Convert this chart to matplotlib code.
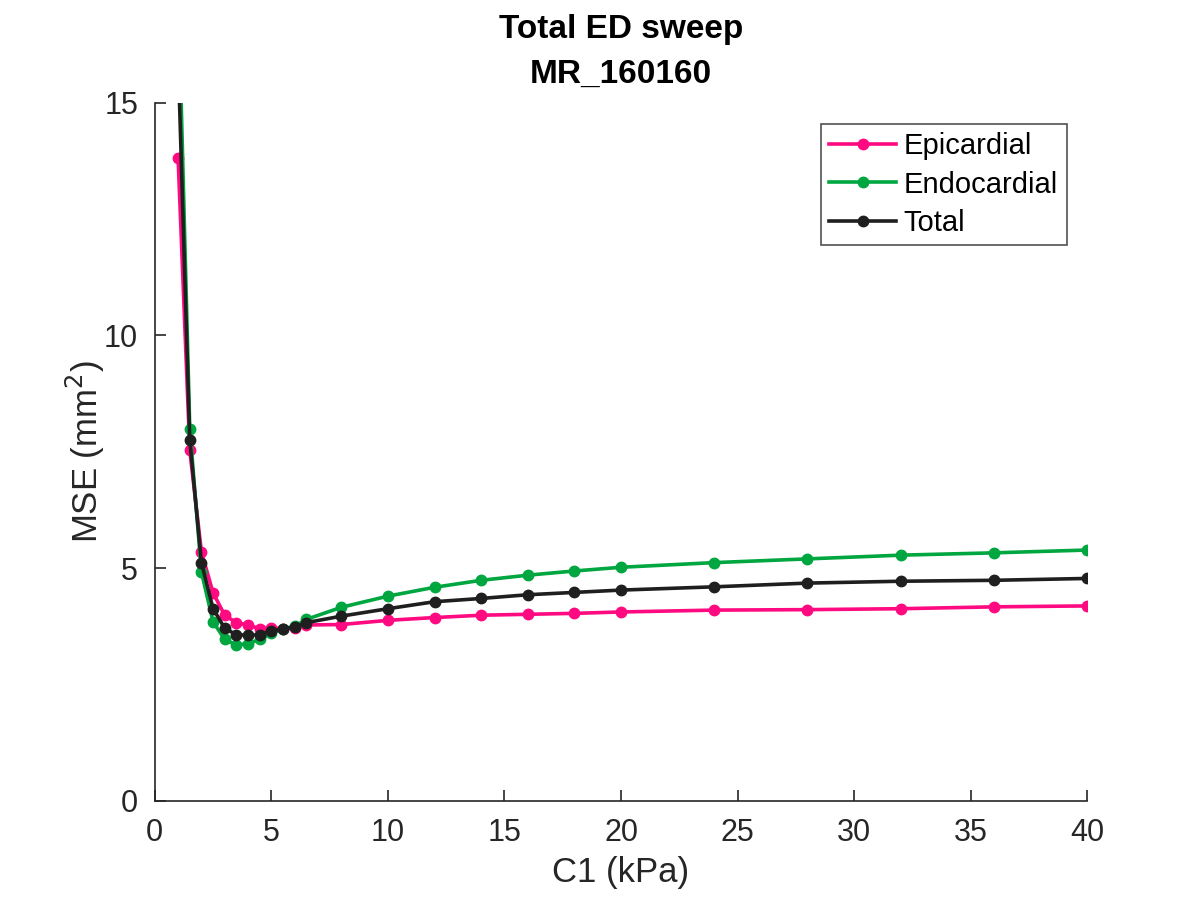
import matplotlib.pyplot as plt

plt.rcParams['font.family'] = ['Liberation Sans', 'DejaVu Sans']

# C1 sweep values (kPa)
c1 = [1, 1.5, 2, 2.5, 3, 3.5, 4, 4.5, 5, 5.5, 6, 6.5, 8, 10, 12, 14, 16,
      18, 20, 24, 28, 32, 36, 40]

# MSE (mm^2)
epicardial = [13.8, 7.53, 5.35, 4.47, 3.99, 3.83, 3.78, 3.70, 3.72, 3.70,
              3.72, 3.78, 3.79, 3.88, 3.94, 3.99, 4.01, 4.03, 4.06, 4.10,
              4.11, 4.13, 4.17, 4.19]
endocardial = [17.5, 8.00, 4.92, 3.85, 3.47, 3.35, 3.38, 3.47, 3.60, 3.70,
               3.75, 3.90, 4.16, 4.40, 4.59, 4.74, 4.85, 4.94, 5.02, 5.12,
               5.20, 5.28, 5.33, 5.39]
total = [16.0, 7.76, 5.12, 4.13, 3.71, 3.57, 3.56, 3.57, 3.65, 3.70,
         3.74, 3.83, 3.97, 4.13, 4.28, 4.35, 4.43, 4.48, 4.53, 4.60,
         4.68, 4.72, 4.74, 4.78]

ax_col = '#262626'

fig = plt.figure(figsize=(12, 9), dpi=100)
ax = fig.add_axes([0.129, 0.11, 0.777, 0.776])

ax.plot(c1, epicardial, '-o', color='#ff0a80', lw=2.6, ms=7.5, label='Epicardial')
ax.plot(c1, endocardial, '-o', color='#00a640', lw=2.6, ms=7.5, label='Endocardial')
ax.plot(c1, total, '-o', color='#1f1f1f', lw=2.6, ms=7.5, label='Total')

ax.set_xlim(0, 40)
ax.set_ylim(0, 15)
ax.set_xticks(range(0, 41, 5))
ax.set_yticks([0, 5, 10, 15])

for s in ['top', 'right']:
    ax.spines[s].set_visible(False)
for s in ['left', 'bottom']:
    ax.spines[s].set_color(ax_col)
    ax.spines[s].set_linewidth(1.2)
ax.tick_params(direction='in', length=8, width=1.2, colors=ax_col,
               labelsize=22, pad=12)

ax.set_xlabel('C1 (kPa)', fontsize=25, color=ax_col, labelpad=6)
ax.set_ylabel('MSE (mm$^2$)', fontsize=25, color=ax_col, labelpad=-2)
ax.set_title('Total ED sweep\nMR_160160', fontsize=24, fontweight='bold',
             linespacing=1.6, pad=14)

leg = ax.legend(loc='upper right', bbox_to_anchor=(0.978, 0.97),
                fontsize=21, frameon=True, fancybox=False,
                handlelength=2.3, handletextpad=0.25, borderpad=0.3,
                labelspacing=0.35, borderaxespad=0.0)
leg.get_frame().set_edgecolor(ax_col)
leg.get_frame().set_linewidth(1.2)

fig.savefig('out.png', dpi=100)
